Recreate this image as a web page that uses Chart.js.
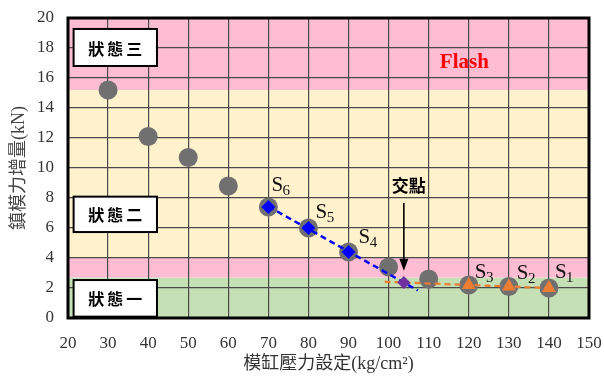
<!DOCTYPE html>
<html>
<head>
<meta charset="utf-8">
<script src="https://cdn.jsdelivr.net/npm/chart.js@4.4.1/dist/chart.umd.min.js"></script>
<style>
  html, body { margin: 0; padding: 0; background: #ffffff; }
  #wrap { width: 604px; height: 376px; }
</style>
</head>
<body>
<div id="wrap"><canvas id="chart" width="604" height="376"></canvas></div>
<script>
// Measured mold-force increase against mold cylinder pressure setting
const pressure      = [30, 40, 50, 60, 70, 80, 90, 100, 110, 120, 130, 140];
const forceIncrease = [15.2, 12.1, 10.7, 8.8, 7.4, 6.0, 4.4, 3.4, 2.6, 2.2, 2.1, 2.0];

// Stage-two sample points (S6, S5, S4)
const stage2Pressure = [70, 80, 90];
const stage2Force    = [7.4, 6.0, 4.4];
const stage2Names    = ['6', '5', '4'];

// Stage-one sample points (S3, S2, S1)
const stage1Pressure = [120, 130, 140];
const stage1Force    = [2.2, 2.1, 2.0];
const stage1Names    = ['3', '2', '1'];

// Linear trend lines through each group
const trend2Pressure = [70, 107.3];
const trend2Force    = [7.43, 1.84];
const trend1Pressure = [99, 140];
const trend1Force    = [2.41, 2.0];

// Intersection of the two trend lines
const crossPressure = [103.8];
const crossForce    = [2.36];

// Region boundaries on the force axis (bottom to top)
const regionLimits = [0, 2.7, 4, 15.2, 20];
const regionColors = ['#c5e0b4', '#ffbdd3', '#fff2cc', '#ffbdd3'];

// State labels and the force range their boxes cover
const stateNames  = ['狀態三', '狀態二', '狀態一'];
const stateTop    = [19.27, 8.09, 2.53];
const stateBottom = [16.8, 5.73, 0.09];
const stateLeft   = 21.4;
const stateRight  = 42.2;

// Axis ranges and ticks
const xMin = 20, xMax = 150, xStep = 10;
const yMin = 0,  yMax = 20,  yStep = 2;

const serif = "'Liberation Serif', 'Times New Roman', 'Noto Sans CJK TC', serif";
const cjkBold = "'Noto Sans CJK TC', 'Liberation Serif', sans-serif";

const toPoints = (xs, ys) => xs.map((x, i) => ({ x: x, y: ys[i] }));

const decorations = {
  id: 'decorations',
  beforeDraw(chart) {
    const { ctx, chartArea: a, scales: { y } } = chart;
    ctx.save();
    for (let i = 0; i < regionColors.length; i++) {
      const top = y.getPixelForValue(regionLimits[i + 1]);
      const bot = y.getPixelForValue(regionLimits[i]);
      ctx.fillStyle = regionColors[i];
      ctx.fillRect(a.left, top, a.right - a.left, bot - top);
    }
    ctx.restore();
  },
  beforeDatasetsDraw(chart) {
    const { ctx, chartArea: a, scales: { x, y } } = chart;
    ctx.save();
    // plot frame
    ctx.strokeStyle = '#000000';
    ctx.lineWidth = 3;
    ctx.strokeRect(a.left, a.top, a.right - a.left, a.bottom - a.top);

    // state boxes
    for (let i = 0; i < stateNames.length; i++) {
      const l = x.getPixelForValue(stateLeft), r = x.getPixelForValue(stateRight);
      const t = y.getPixelForValue(stateTop[i]), b = y.getPixelForValue(stateBottom[i]);
      ctx.fillStyle = '#ffffff';
      ctx.fillRect(l, t, r - l, b - t);
      ctx.strokeStyle = '#000000';
      ctx.lineWidth = 2;
      ctx.strokeRect(l, t, r - l, b - t);
      ctx.fillStyle = '#000000';
      ctx.font = 'bold 16px ' + cjkBold;
      ctx.letterSpacing = '3px';
      ctx.textAlign = 'center';
      ctx.textBaseline = 'middle';
      ctx.fillText(stateNames[i], (l + r) / 2 + 1.5, (t + b) / 2 + 1);
    }
    ctx.letterSpacing = '0px';

    // Flash region label
    ctx.fillStyle = '#ff0000';
    ctx.font = 'bold 21px ' + serif;
    ctx.textAlign = 'center';
    ctx.textBaseline = 'middle';
    ctx.fillText('Flash', x.getPixelForValue(118.9), y.getPixelForValue(17.0));

    // intersection annotation
    const ax = x.getPixelForValue(crossPressure[0]);
    ctx.fillStyle = '#000000';
    ctx.font = 'bold 17px ' + cjkBold;
    ctx.fillText('交點', ax + 5, y.getPixelForValue(8.8));
    const y0 = y.getPixelForValue(7.67), y1 = y.getPixelForValue(3.15);
    ctx.strokeStyle = '#000000';
    ctx.lineWidth = 1.6;
    ctx.beginPath();
    ctx.moveTo(ax, y0);
    ctx.lineTo(ax, y1 - 10);
    ctx.stroke();
    ctx.beginPath();
    ctx.moveTo(ax - 4.5, y1 - 12);
    ctx.lineTo(ax + 4.5, y1 - 12);
    ctx.lineTo(ax, y1);
    ctx.closePath();
    ctx.fill();
    ctx.restore();
  },
  afterDatasetsDraw(chart) {
    const { ctx, scales: { x, y } } = chart;
    ctx.save();
    ctx.fillStyle = '#111111';
    ctx.textAlign = 'left';
    ctx.textBaseline = 'alphabetic';
    const offsets2 = [[3, -16], [7, -10], [10, -9]];
    const offsets1 = [[6, -7], [8, -8], [6, -10]];
    const put = (px, py, sub, off) => {
      const bx = x.getPixelForValue(px) + off[0];
      const by = y.getPixelForValue(py) + off[1];
      ctx.font = '21px ' + serif;
      ctx.fillText('S', bx, by);
      const w = ctx.measureText('S').width;
      ctx.font = '15px ' + serif;
      ctx.fillText(sub, bx + w - 0.5, by + 4);
    };
    stage2Pressure.forEach((p, i) => put(p, stage2Force[i], stage2Names[i], offsets2[i]));
    stage1Pressure.forEach((p, i) => put(p, stage1Force[i], stage1Names[i], offsets1[i]));
    ctx.restore();
  }
};

new Chart(document.getElementById('chart'), {
  type: 'scatter',
  data: {
    datasets: [
      {
        label: 'all',
        data: toPoints(pressure, forceIncrease),
        backgroundColor: '#717070',
        borderColor: '#717070',
        pointRadius: 9.5,
        pointBorderWidth: 0,
        order: 10
      },
      {
        label: 'trend2',
        type: 'line',
        data: toPoints(trend2Pressure, trend2Force),
        borderColor: '#0000ff',
        borderWidth: 2.5,
        borderDash: [6, 4],
        pointRadius: 0,
        fill: false,
        order: 6
      },
      {
        label: 'trend1',
        type: 'line',
        data: toPoints(trend1Pressure, trend1Force),
        borderColor: '#ed7d31',
        borderWidth: 2.2,
        borderDash: [6, 4],
        pointRadius: 0,
        fill: false,
        order: 6
      },
      {
        label: 'stage2',
        data: toPoints(stage2Pressure, stage2Force),
        pointStyle: 'rectRot',
        backgroundColor: '#0000ff',
        borderColor: '#0000ff',
        pointRadius: 7,
        pointBorderWidth: 0,
        order: 2
      },
      {
        label: 'stage1',
        data: toPoints(stage1Pressure, stage1Force),
        pointStyle: 'triangle',
        backgroundColor: '#ed7d31',
        borderColor: '#ed7d31',
        pointRadius: 8,
        pointBorderWidth: 0,
        order: 2
      },
      {
        label: 'cross',
        data: toPoints(crossPressure, crossForce),
        pointStyle: 'rectRot',
        backgroundColor: '#7030a0',
        borderColor: '#7030a0',
        pointRadius: 6.5,
        pointBorderWidth: 0,
        order: 1
      }
    ]
  },
  options: {
    responsive: false,
    animation: false,
    devicePixelRatio: 1,
    layout: { padding: { top: 18, right: 15, left: 0, bottom: 0 } },
    plugins: { legend: { display: false }, tooltip: { enabled: false } },
    scales: {
      x: {
        type: 'linear',
        min: xMin, max: xMax,
        afterFit(s) { s.height = 58; s.paddingLeft = 0; s.paddingRight = 0; },
        ticks: { stepSize: xStep, padding: 15, color: '#333333', font: { family: serif, size: 17 } },
        grid: { color: '#4a4a4a', lineWidth: 1.2, drawTicks: false },
        border: { display: false },
        title: { display: true, text: '模缸壓力設定(kg/cm²)', color: '#333333', padding: { top: 0, bottom: 1 }, font: { family: serif, size: 18 } }
      },
      y: {
        min: yMin, max: yMax,
        afterFit(s) { s.width = 68; s.paddingTop = 0; s.paddingBottom = 0; },
        ticks: { stepSize: yStep, padding: 14, color: '#333333', font: { family: serif, size: 17 } },
        grid: { color: '#4a4a4a', lineWidth: 1.2, drawTicks: false },
        border: { display: false },
        title: { display: true, text: '鎮模力增量(kN)', color: '#444444', padding: { top: 8, bottom: 0 }, font: { family: serif, size: 18 } }
      }
    }
  },
  plugins: [decorations]
});
</script>
</body>
</html>
